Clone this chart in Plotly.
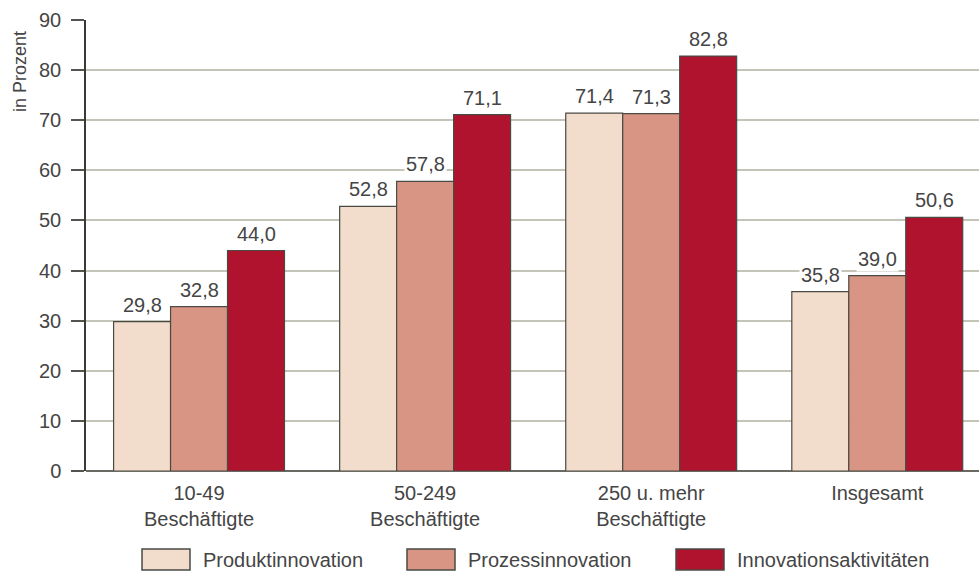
import plotly.graph_objects as go

categories = ["10-49<br>Beschäftigte", "50-249<br>Beschäftigte", "250 u. mehr<br>Beschäftigte", "Insgesamt"]
series_names = ["Produktinnovation", "Prozessinnovation", "Innovationsaktivitäten"]
produkt = [29.8, 52.8, 71.4, 35.8]
prozess = [32.8, 57.8, 71.3, 39.0]
aktiv = [44.0, 71.1, 82.8, 50.6]
y_ticks = [0, 10, 20, 30, 40, 50, 60, 70, 80, 90]

series_values = [produkt, prozess, aktiv]
colors = ["#F2DCCB", "#D89584", "#B0132D"]
font_family = "Liberation Sans, Arial, sans-serif"
text_color = "#454545"
fs = 20

W, H = 979, 572
ML, MR, MT, MB = 86, 0, 20, 101
plot_w = W - ML - MR
plot_h = H - MT - MB

def px(pix):
    return (pix - ML) / plot_w

def py(pix):
    return (H - MB - pix) / plot_h

bargap = 0.244
n = len(series_names)
bar_w = (1 - bargap) / n

fig = go.Figure()
xs = list(range(len(categories)))
for name, vals, col in zip(series_names, series_values, colors):
    fig.add_trace(go.Bar(
        x=xs, y=vals, name=name,
        marker=dict(color=col, line=dict(color="#4a4a44", width=1.2)),
        showlegend=False,
    ))

annotations = []
for si, vals in enumerate(series_values):
    off = (si - (n - 1) / 2) * bar_w
    for ci, v in enumerate(vals):
        annotations.append(dict(
            x=ci + off, y=v, xref="x", yref="y",
            text=f"{v:.1f}".replace(".", ","),
            showarrow=False, yanchor="bottom", yshift=4,
            font=dict(family=font_family, size=fs, color=text_color),
            bgcolor="white", borderpad=1,
        ))

# y-axis title placed at top, like the reference
annotations.append(dict(
    x=px(20), y=py(72), xref="paper", yref="paper",
    text="in Prozent", textangle=-90, showarrow=False,
    xanchor="center", yanchor="middle",
    font=dict(family=font_family, size=fs - 2, color=text_color),
))

# manual legend (large swatches)
legend_x = [142, 407, 676]
shapes = []
for i, (name, col) in enumerate(zip(series_names, colors)):
    shapes.append(dict(type="rect", xref="paper", yref="paper",
                       x0=px(legend_x[i]), x1=px(legend_x[i] + 48),
                       y0=py(570), y1=py(549), layer="above",
                       line=dict(color="#4a4a44", width=1.5), fillcolor=col))
    annotations.append(dict(
        x=px(legend_x[i] + 59), y=py(559.5), xref="paper", yref="paper",
        text=name, showarrow=False, xanchor="left", yanchor="middle",
        font=dict(family=font_family, size=fs, color=text_color),
    ))

fig.update_layout(
    width=W, height=H,
    margin=dict(l=ML, r=MR, t=MT, b=MB),
    paper_bgcolor="white", plot_bgcolor="white",
    barmode="group", bargap=bargap, bargroupgap=0,
    font=dict(family=font_family, size=fs, color=text_color),
    xaxis=dict(
        tickmode="array", tickvals=xs, ticktext=categories,
        range=[-0.5, 3.45], showgrid=False, ticks="",
        showline=False, tickfont=dict(size=fs, color=text_color),
        ticklabelstandoff=8,
    ),
    yaxis=dict(
        range=[0, 90], tickvals=y_ticks, ticks="outside", ticklen=13,
        tickcolor="#55554f", tickwidth=2,
        showgrid=True, gridcolor="#c4c4b8", gridwidth=2,
        showline=True, linecolor="#3a3a35", linewidth=1.5,
        zeroline=True, zerolinecolor="#6a6a62", zerolinewidth=2,
        tickfont=dict(size=fs, color=text_color),
        ticklabelstandoff=6,
    ),
    shapes=shapes,
    annotations=annotations,
)

fig.write_html("out.html")
